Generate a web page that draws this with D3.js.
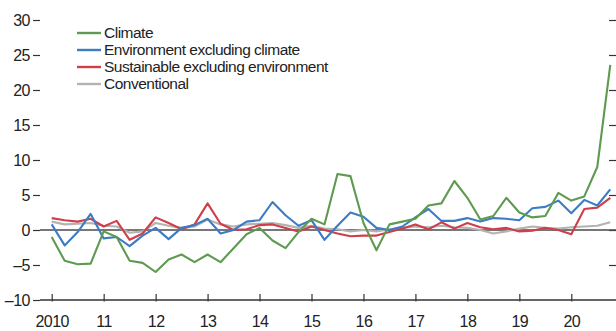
<!DOCTYPE html>
<html>
<head>
<meta charset="utf-8">
<script src="https://cdn.jsdelivr.net/npm/d3@7"></script>
<style>
  html, body { margin: 0; padding: 0; background: #fff; }
  svg text { font-family: "Liberation Sans", Arial, sans-serif; fill: #222; }
</style>
</head>
<body>
<svg id="chart" width="616" height="331"></svg>
<script>
// ---- data (quarterly, 2010Q1 – 2020Q4) ----
const startYear = 2010;
const seriesNames = ["Climate", "Environment excluding climate", "Sustainable excluding environment", "Conventional"];
const climate = [-1.0, -4.4, -4.9, -4.8, -0.2, -1.0, -4.4, -4.7, -6.0, -4.2, -3.5, -4.6, -3.5, -4.6, -2.6, -0.6,
                 0.3, -1.5, -2.6, -0.3, 1.6, 0.8, 8.0, 7.7, 1.0, -2.9, 0.8, 1.2, 1.6, 3.5, 3.8, 7.0,
                 4.6, 1.5, 2.0, 4.6, 2.5, 1.8, 2.0, 5.3, 4.2, 4.8, 9.0, 23.6];
const environment = [0.8, -2.2, -0.3, 2.3, -1.2, -1.0, -2.3, -0.8, 0.3, -1.3, 0.3, 0.7, 1.6, -0.5, 0.0, 1.2,
                 1.4, 4.0, 2.1, 0.6, 1.4, -1.4, 0.6, 2.5, 1.9, 0.3, 0.0, 0.5, 1.8, 3.0, 1.3, 1.3,
                 1.7, 1.2, 1.7, 1.6, 1.4, 3.1, 3.3, 4.2, 2.4, 4.3, 3.5, 5.8];
const sustainable = [1.7, 1.4, 1.2, 1.6, 0.5, 1.3, -1.4, -0.5, 1.8, 1.0, 0.1, 0.8, 3.8, 0.9, 0.0, 0.1,
                 0.7, 0.8, 0.3, -0.2, 0.5, 0.0, -0.5, -0.9, -0.8, -0.8, -0.3, 0.2, 0.8, 0.1, 1.1, 0.2,
                 1.0, 0.4, 0.1, 0.3, -0.2, -0.1, 0.3, 0.0, -0.6, 3.0, 3.2, 4.6];
const conventional = [1.2, 0.8, 0.9, 1.0, 0.6, 0.5, -0.4, -0.2, 1.0, 0.6, 0.3, 0.5, 1.5, 0.8, 0.5, 0.8,
                 0.9, 1.0, 0.7, 0.3, 0.6, 0.2, 0.1, -0.2, 0.0, -0.2, 0.1, 0.3, 0.5, 0.4, 0.6, 0.4,
                 0.3, 0.0, -0.5, -0.2, 0.2, 0.5, 0.3, 0.2, 0.4, 0.5, 0.6, 1.1];
const yTicks = [-10, -5, 0, 5, 10, 15, 20, 25, 30];
const yearTicks = [2010, 2011, 2012, 2013, 2014, 2015, 2016, 2017, 2018, 2019, 2020];
const yearLabels = ["2010", "11", "12", "13", "14", "15", "16", "17", "18", "19", "20"];

const colors = ["#5e9a4f", "#3b7cc4", "#cf3f4a", "#b3b3b3"];
const seriesData = [climate, environment, sustainable, conventional];

// ---- layout ----
const svg = d3.select("#chart");
const x = d3.scaleLinear().domain([2010, 2020]).range([51.7, 571.3]);
const y = d3.scaleLinear().domain([-10, 30]).range([300, 20]);
const axisX0 = 40;

// left axis (ticks outward, no domain)
const gL = svg.append("g").attr("transform", `translate(${axisX0},0)`)
  .call(d3.axisLeft(y).tickValues(yTicks).tickSize(7).tickPadding(3)
        .tickFormat(d => d < 0 ? "\u2013" + Math.abs(d) : d));
gL.select(".domain").remove();
gL.selectAll(".tick line").attr("stroke", "#333").attr("stroke-width", 1.2);
gL.selectAll(".tick text").style("font-size", "16px").style("letter-spacing", "-0.5px").attr("fill", "#222");

// right axis ticks (no labels)
const gR = svg.append("g").attr("transform", `translate(616,0)`)
  .call(d3.axisLeft(y).tickValues(yTicks.filter(v => v > -10)).tickSize(7).tickFormat(""));
gR.select(".domain").remove();
gR.selectAll(".tick line").attr("stroke", "#333").attr("stroke-width", 1.2);

// bottom axis
const gB = svg.append("g").attr("transform", `translate(0,${y(-10)})`)
  .call(d3.axisBottom(x).tickValues(yearTicks).tickSize(-6).tickPadding(16)
        .tickFormat((d, i) => yearLabels[i]));
gB.select(".domain").remove();
gB.selectAll(".tick line").attr("stroke", "#333").attr("stroke-width", 1.2).attr("y2", -6).attr("y1", 1.5);
gB.selectAll(".tick text").style("font-size", "16px").style("letter-spacing", "-0.5px").attr("fill", "#222");
gB.append("line").attr("x1", axisX0).attr("x2", 616).attr("y1", 0).attr("y2", 0)
  .attr("stroke", "#333").attr("stroke-width", 1.3);

// zero line
svg.append("line").attr("x1", axisX0).attr("x2", 616).attr("y1", y(0)).attr("y2", y(0))
  .attr("stroke", "#4a4a4a").attr("stroke-width", 1.6);

// lines
const line = d3.line().x((d, i) => x(startYear + i / 4)).y(d => y(d));
[3, 2, 1, 0].forEach(k => {
  svg.append("path").datum(seriesData[k]).attr("d", line)
    .attr("fill", "none").attr("stroke", colors[k]).attr("stroke-width", 2.1)
    .attr("stroke-linejoin", "round");
});

// legend
const legend = svg.append("g");
seriesNames.forEach((name, i) => {
  const ly = 33 + i * 17;
  legend.append("line").attr("x1", 77).attr("x2", 101).attr("y1", ly).attr("y2", ly)
    .attr("stroke", colors[i]).attr("stroke-width", 2.4);
  legend.append("text").attr("x", 104).attr("y", ly).attr("dy", "0.35em")
    .style("font-size", "15.5px").style("letter-spacing", "-0.5px").text(name);
});
</script>
</body>
</html>
